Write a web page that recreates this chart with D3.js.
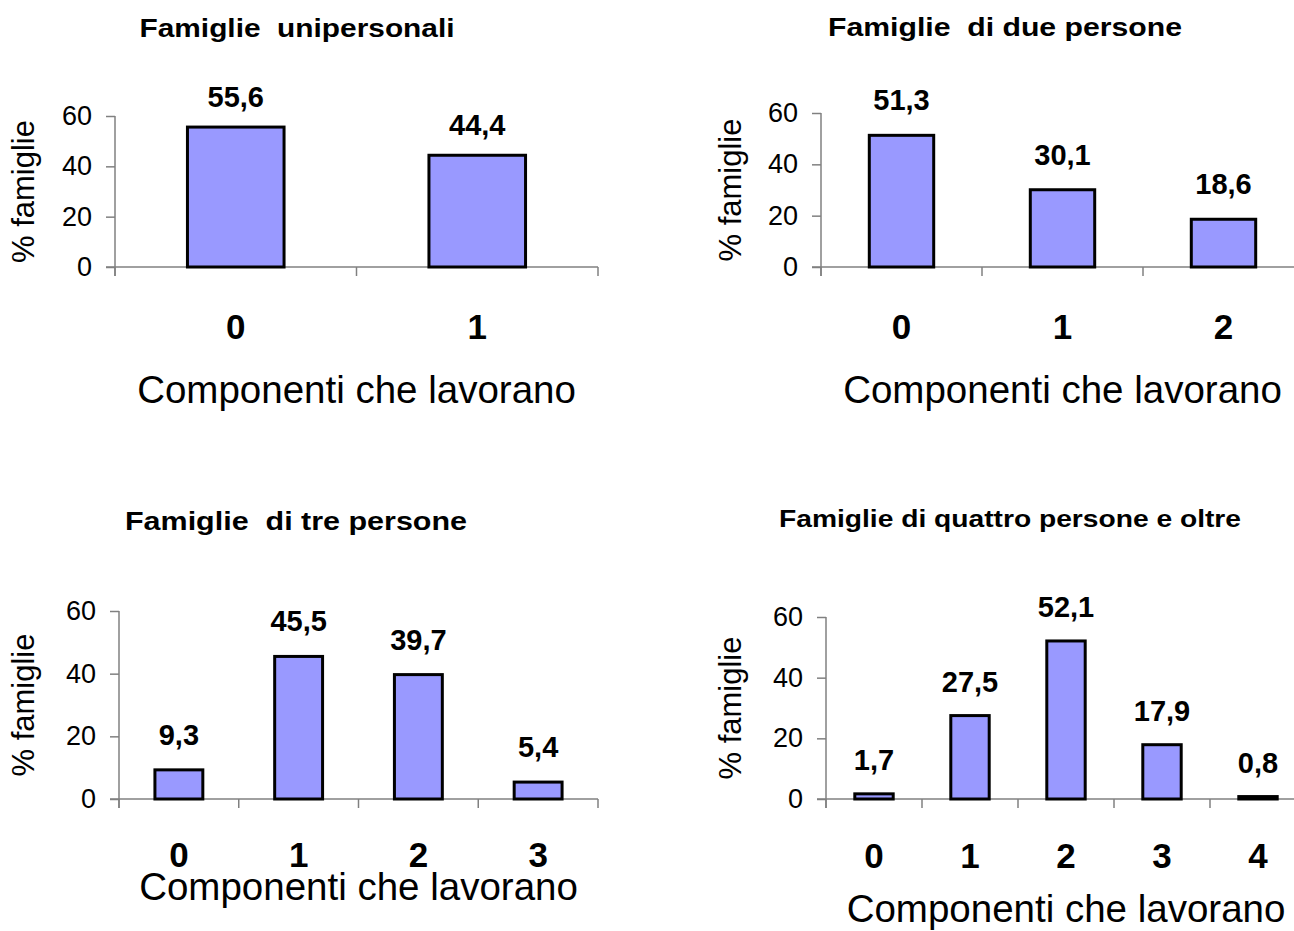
<!DOCTYPE html>
<html><head><meta charset="utf-8">
<script src="https://cdn.jsdelivr.net/npm/d3@7"></script>
<style>
html,body{margin:0;padding:0;background:#fff;}
svg{display:block;font-family:"Liberation Sans",Arial,sans-serif;}
text{white-space:pre;}
</style></head>
<body>
<svg id="chart" width="1294" height="931"></svg>
<script>
// ---- data ----
const titles = ["Famiglie  unipersonali", "Famiglie  di due persone", "Famiglie  di tre persone", "Famiglie di quattro persone e oltre"];
const categories1 = ["0", "1"];
const values1 = [55.6, 44.4];
const categories2 = ["0", "1", "2"];
const values2 = [51.3, 30.1, 18.6];
const categories3 = ["0", "1", "2", "3"];
const values3 = [9.3, 45.5, 39.7, 5.4];
const categories4 = ["0", "1", "2", "3", "4"];
const values4 = [1.7, 27.5, 52.1, 17.9, 0.8];
const yTicks = [0, 20, 40, 60];
const yLabel = "% famiglie";
const xLabel = "Componenti che lavorano";

// ---- layout ----
const panels = [
  {cats: categories1, vals: values1, title: titles[0], x0: 115, x1: 598, yTop: 116, yBot: 267, tx: 297, ty: 37, tfs: 26, tlen: 315, tickY: 339, xtY: 403, ylx: 34, voff: 20},
  {cats: categories2, vals: values2, title: titles[1], x0: 821, x1: 1304, yTop: 113, yBot: 267, tx: 1005, ty: 36, tfs: 26, tlen: 354, tickY: 339, xtY: 403, ylx: 741, voff: 25},
  {cats: categories3, vals: values3, title: titles[2], x0: 119, x1: 598, yTop: 611, yBot: 799, tx: 296, ty: 530, tfs: 26, tlen: 342, tickY: 867, xtY: 900, ylx: 34, voff: 25},
  {cats: categories4, vals: values4, title: titles[3], x0: 826, x1: 1306, yTop: 617, yBot: 799, tx: 1010, ty: 527, tfs: 24, tlen: 462, tickY: 868, xtY: 922, ylx: 741, voff: 24}
];

const svg = d3.select("#chart");
const axisColor = "#808080";

panels.forEach(p => {
  const g = svg.append("g");
  const xb = d3.scaleBand().domain(p.cats).range([p.x0, p.x1]);
  const y = d3.scaleLinear().domain([0, 60]).range([p.yBot, p.yTop]);

  // title
  g.append("text").attr("x", p.tx).attr("y", p.ty).attr("text-anchor", "middle")
    .attr("font-weight", "bold").attr("font-size", p.tfs)
    .attr("textLength", p.tlen).attr("lengthAdjust", "spacingAndGlyphs").text(p.title);

  // y axis
  const yAxis = d3.axisLeft(y).tickValues(yTicks).tickSize(9).tickPadding(14).tickFormat(d3.format("d"));
  const ya = g.append("g").attr("transform", `translate(${p.x0},0)`).call(yAxis);
  ya.select(".domain").remove();
  ya.selectAll(".tick line").attr("stroke", axisColor).attr("stroke-width", 1.5);
  ya.selectAll(".tick text").attr("font-size", 27).attr("fill", "#000").attr("font-family", "Liberation Sans, Arial, sans-serif");
  g.append("line").attr("x1", p.x0).attr("x2", p.x0).attr("y1", p.yTop).attr("y2", p.yBot + 9)
    .attr("stroke", axisColor).attr("stroke-width", 1.5);

  // x axis line and boundary ticks
  g.append("line").attr("x1", p.x0 - 9).attr("x2", p.x1).attr("y1", p.yBot).attr("y2", p.yBot)
    .attr("stroke", axisColor).attr("stroke-width", 1.5);
  const bounds = p.cats.map(c => xb(c)).concat([p.x1]);
  g.selectAll(".xtick").data(bounds).join("line")
    .attr("x1", d => d).attr("x2", d => d).attr("y1", p.yBot).attr("y2", p.yBot + 9)
    .attr("stroke", axisColor).attr("stroke-width", 1.5);

  // x tick labels
  g.selectAll(".xlab").data(p.cats).join("text")
    .attr("x", d => xb(d) + xb.bandwidth() / 2).attr("y", p.tickY)
    .attr("text-anchor", "middle").attr("font-weight", "bold").attr("font-size", 35).text(d => d);

  // bars
  const bw = xb.bandwidth() * 0.4;
  g.selectAll(".bar").data(p.vals).join("rect")
    .attr("x", (d, i) => xb(p.cats[i]) + xb.bandwidth() / 2 - bw / 2)
    .attr("y", d => y(d)).attr("width", bw).attr("height", d => p.yBot - y(d))
    .attr("fill", "#9999FF").attr("stroke", "#000").attr("stroke-width", 3);

  // value labels
  g.selectAll(".val").data(p.vals).join("text")
    .attr("x", (d, i) => xb(p.cats[i]) + xb.bandwidth() / 2).attr("y", d => y(d) - p.voff)
    .attr("text-anchor", "middle").attr("font-weight", "bold").attr("font-size", 29)
    .text(d => d3.format(".1f")(d).replace(".", ","));

  // y label
  g.append("text").attr("transform", `translate(${p.ylx},${(p.yTop + p.yBot) / 2}) rotate(-90)`)
    .attr("text-anchor", "middle").attr("font-size", 31).text(yLabel);

  // x title
  g.append("text").attr("x", (p.x0 + p.x1) / 2).attr("y", p.xtY)
    .attr("text-anchor", "middle").attr("font-size", 38.5).text(xLabel);
});
</script>
</body></html>
